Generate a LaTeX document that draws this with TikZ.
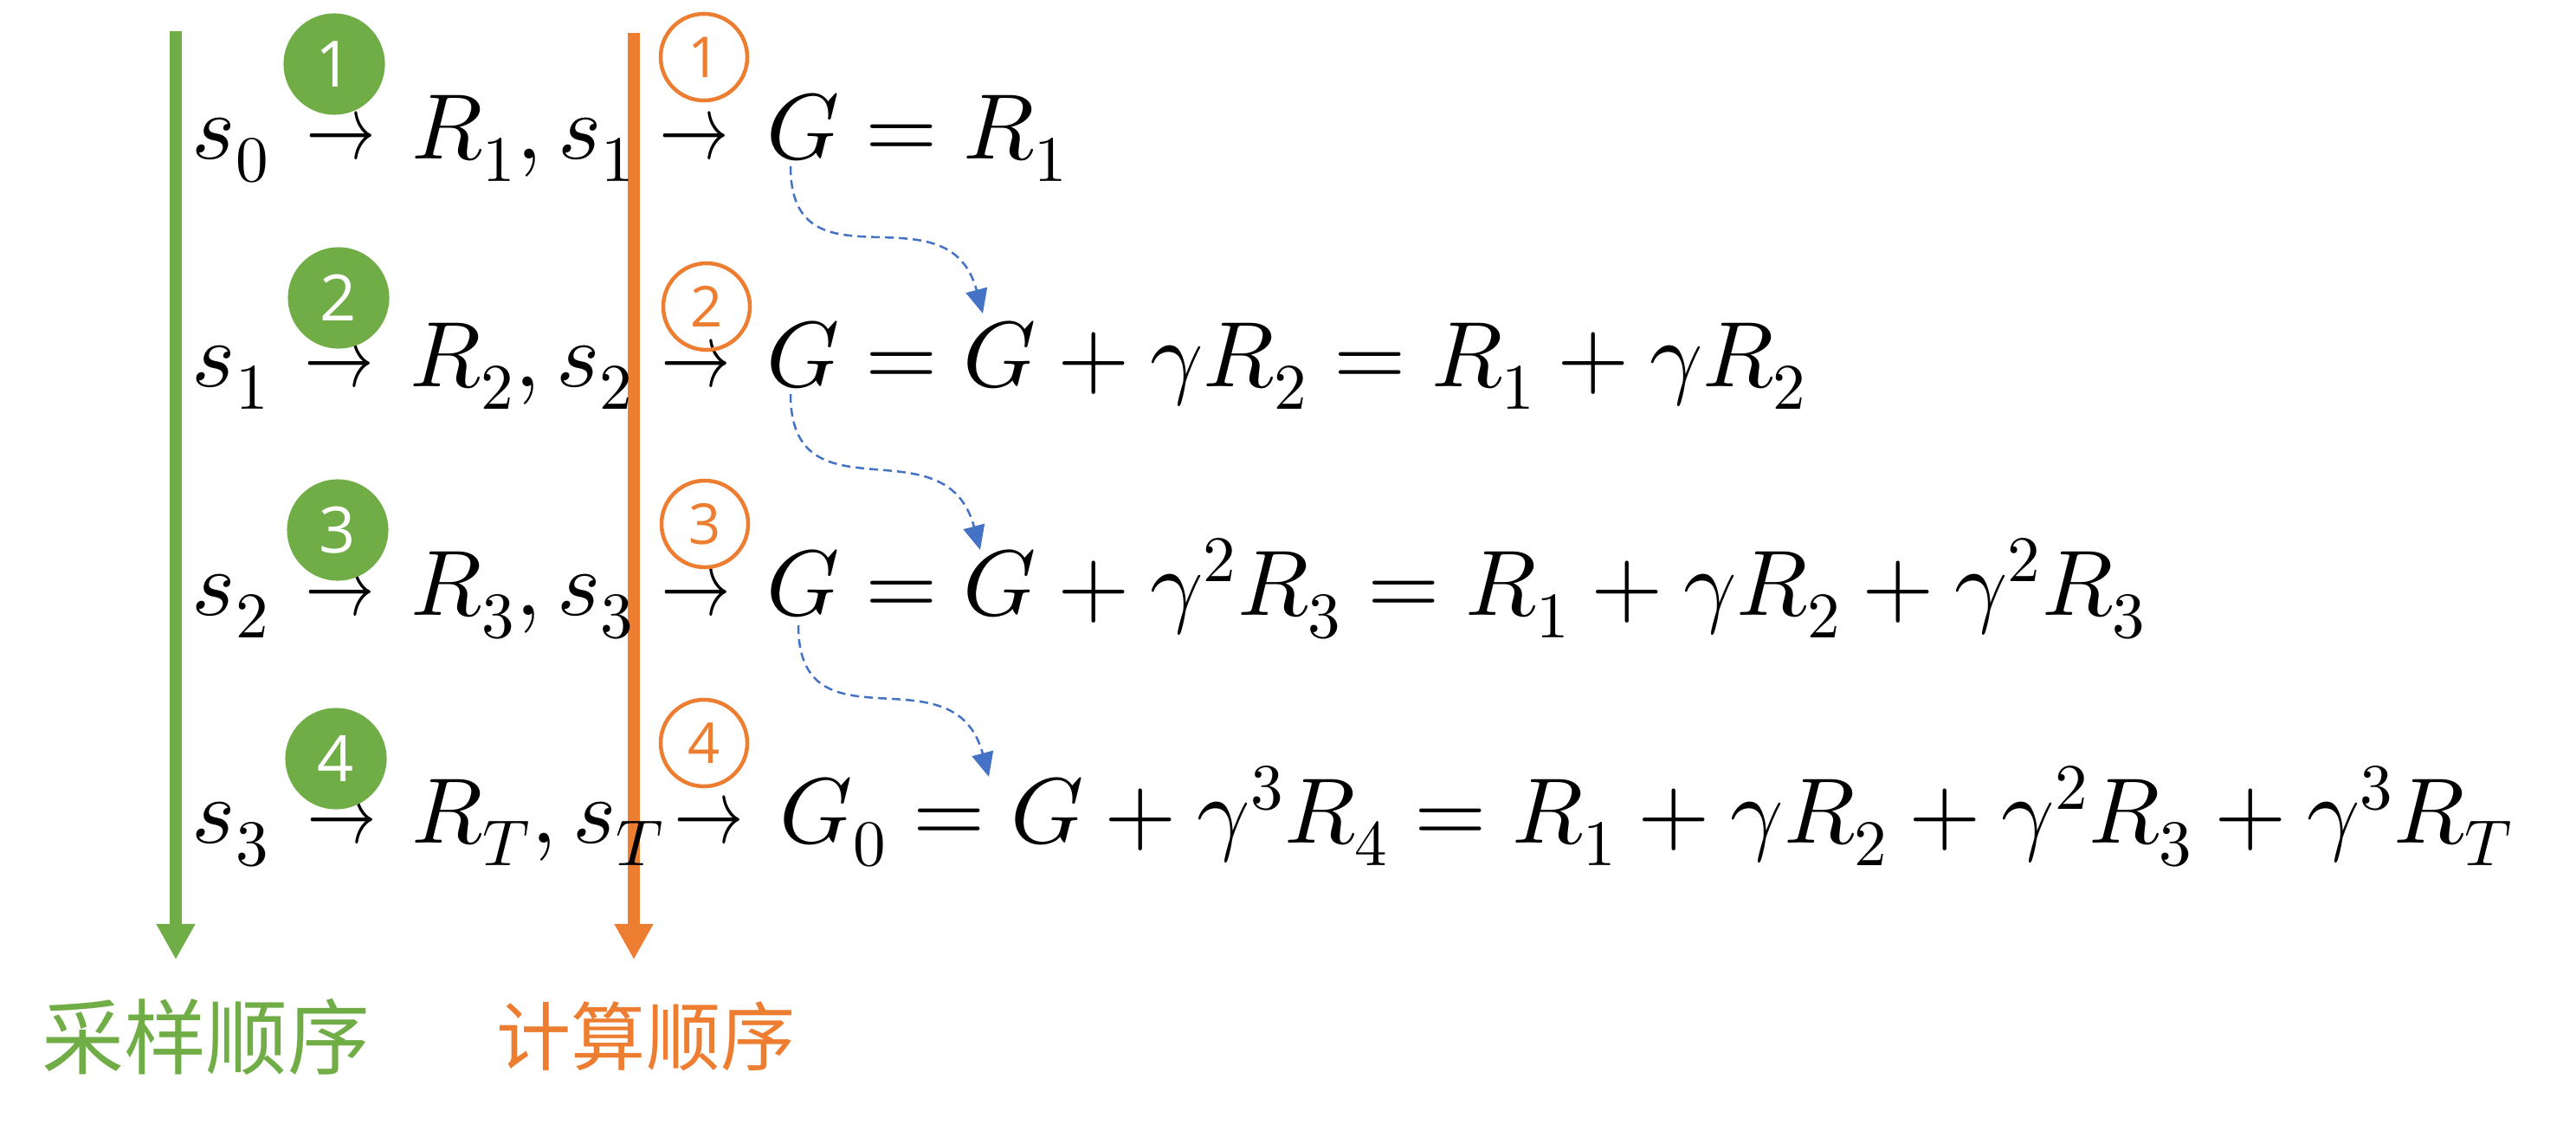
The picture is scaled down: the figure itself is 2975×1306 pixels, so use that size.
\documentclass[tikz,border=0pt]{standalone}
\usepackage{fontspec}
\usepackage{unicode-math}
\newfontfamily\cjk{Noto Sans CJK SC}
\newfontfamily\numf{Open Sans}
\usetikzlibrary{arrows.meta}
\definecolor{cgreen}{HTML}{70AD47}
\definecolor{corange}{HTML}{ED7D31}
\definecolor{cblue}{HTML}{4472C4}
\tikzset{
  mtxt/.style={inner sep=0pt, anchor=base west, font=\fontsize{30.5}{36}\selectfont},
  arr/.style={inner sep=0pt, anchor=base, font=\fontsize{30.5}{36}\selectfont},
  gnum/.style={circle, fill=cgreen, minimum size=1.17cm, inner sep=0pt, text=white, font=\numf\fontsize{21}{24}\selectfont},
  onum/.style={circle, draw=corange, line width=0.045cm, minimum size=1.0cm, inner sep=0pt, text=corange, font=\numf\fontsize{18.5}{22}\selectfont},
  vline/.style={line width=0.14cm, -{Triangle[length=0.41cm,width=0.42cm]}},
  flow/.style={cblue, line width=0.025cm, dash pattern=on 0.1cm off 0.06cm, -{Triangle[length=0.28cm,width=0.25cm]}},
  lab/.style={inner sep=0pt, font=\cjk\fontsize{27}{30}\selectfont},
  labsmall/.style={inner sep=0pt, font=\cjk\fontsize{24.5}{28}\selectfont}
}
\begin{document}
\begin{tikzpicture}[x=0.01cm, y=-0.01cm]
\useasboundingbox (0,0) rectangle (2975,1306);

% vertical arrows
\coordinate (gtop) at (203,36);
\coordinate (gbot) at (203,1108);
\coordinate (otop) at (732,38);
\coordinate (obot) at (732,1108);
\draw[vline, cgreen] (gtop) -- (gbot);
\draw[vline, corange] (otop) -- (obot);

% row 1
\node[mtxt] (s1) at (221,183) {$s_0$};
\node[arr] (a11) at (394,183) {\scalebox{0.75}[1]{$\to$}};
\node[mtxt] (rs1) at (475,183) {$R_1, s_1$};
\node[arr] (a12) at (802,183) {\scalebox{0.75}[1]{$\to$}};
\node[mtxt] (e1) at (885,183) {$G = R_1$};

% row 2
\node[mtxt] (s2) at (221,446) {$s_1$};
\node[arr] (a21) at (392,446) {\scalebox{0.75}[1]{$\to$}};
\node[mtxt] (rs2) at (473,446) {$R_2, s_2$};
\node[arr] (a22) at (804,446) {\scalebox{0.75}[1]{$\to$}};
\node[mtxt] (e2) at (885,446) {$G = G + \gamma R_2 = R_1 + \gamma R_2$};

% row 3
\node[mtxt] (s3) at (221,710) {$s_2$};
\node[arr] (a31) at (393,710) {\scalebox{0.75}[1]{$\to$}};
\node[mtxt] (rs3) at (474,710) {$R_3, s_3$};
\node[arr] (a32) at (804,710) {\scalebox{0.75}[1]{$\to$}};
\node[mtxt] (e3) at (885,710) {$G = G + \gamma^2 R_3 = R_1 + \gamma R_2 + \gamma^2 R_3$};

% row 4
\node[mtxt] (s4) at (221,973) {$s_3$};
\node[arr] (a41) at (395,973) {\scalebox{0.75}[1]{$\to$}};
\node[mtxt] (rs4) at (475,973) {$R_T, s_T$};
\node[arr] (a42) at (819,973) {\scalebox{0.75}[1]{$\to$}};
\node[mtxt] (e4) at (900,973) {$G_0 = G + \gamma^3 R_4 = R_1 + \gamma R_2 + \gamma^2 R_3 + \gamma^3 R_T$};

% green step numbers
\node[gnum] (g1) at (386,74) {1};
\node[gnum] (g2) at (391,344) {2};
\node[gnum] (g3) at (390,612) {3};
\node[gnum] (g4) at (388,876) {4};

% orange step numbers
\node[onum] (o1) at (813,66) {1};
\node[onum] (o2) at (816,354) {2};
\node[onum] (o3) at (814,605) {3};
\node[onum] (o4) at (813,858) {4};

% dashed flow arrows
\coordinate (d1s) at (913,192);
\coordinate (d1e) at (1135,362);
\coordinate (d2s) at (913,455);
\coordinate (d2e) at (1132,635);
\coordinate (d3s) at (922,722);
\coordinate (d3e) at (1142,897);
\draw[flow] (d1s) .. controls +(0,150) and +(-40,-150) .. (d1e);
\draw[flow] (d2s) .. controls +(0,150) and +(-40,-150) .. (d2e);
\draw[flow] (d3s) .. controls +(0,150) and +(-40,-150) .. (d3e);

% labels
\node[lab, text=cgreen] (l1) at (238,1197) {采样顺序};
\node[labsmall, text=corange] (l2) at (746,1197) {计算顺序};
\end{tikzpicture}
\end{document}
